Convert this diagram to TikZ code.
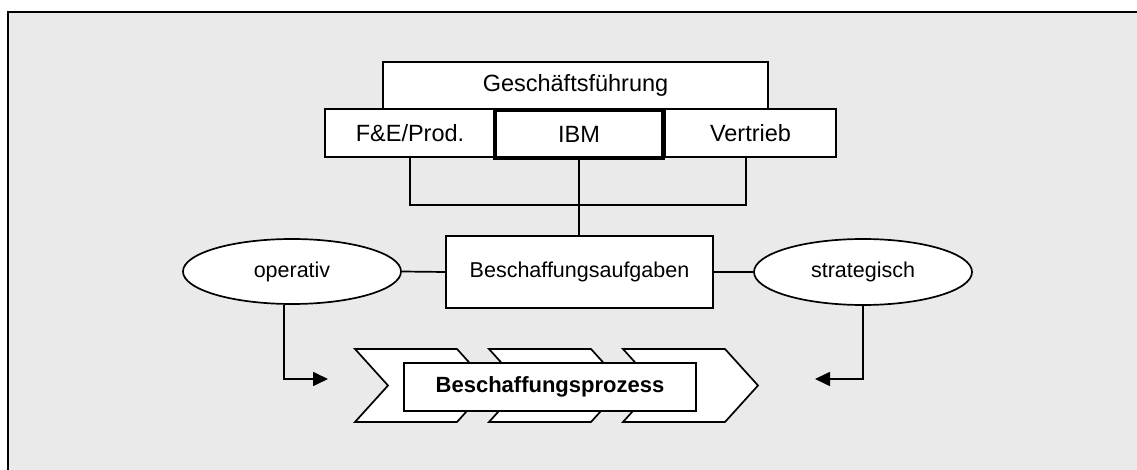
\documentclass[tikz,border=0pt]{standalone}
\usepackage{fontspec}
\setmainfont{Liberation Sans}
\usetikzlibrary{shapes.geometric,arrows.meta}
\definecolor{bggray}{HTML}{EAEAEA}
\begin{document}
\begin{tikzpicture}[x=1pt,y=-1pt,
  line width=1.7pt,
  box/.style={draw=black,fill=white,rectangle,inner sep=0pt,font=\fontsize{22.5}{26}\selectfont},
  oval/.style={draw=black,fill=white,ellipse,inner sep=0pt,font=\fontsize{21.5}{26}\selectfont},
  chev/.style={draw=black,fill=white,line join=miter},
  arr/.style={-{Triangle[length=15pt,width=14pt]}}
]
\useasboundingbox (0,0) rectangle (1137,470);
\fill[bggray] (8,12) rectangle (1137,470);
\draw[line width=2.2pt] (8,470) -- (8,12) -- (1137,12);

% top boxes
\node[box,minimum width=385pt,minimum height=47pt,font=\fontsize{23.5}{26}\selectfont] (gf) at (575.5,85.5) {Geschäftsführung};
\node[box,minimum width=170pt,minimum height=48pt,font=\fontsize{23.5}{26}\selectfont] (fe) at (410,133) {F\&E/Prod.};
\node[box,minimum width=171pt,minimum height=48pt,font=\fontsize{23.5}{26}\selectfont] (vt) at (750.5,133) {Vertrieb};
\node[box,line width=3.5pt,minimum width=168pt,minimum height=48pt,font=\fontsize{23.5}{26}\selectfont] (ibm) at (579,134) {IBM};

% middle
\node[box,minimum width=267pt,minimum height=72pt,font=\fontsize{21.5}{26}\selectfont] (ba) at (579.5,272) {Beschaffungsaufgaben};
\node[oval,minimum width=218pt,minimum height=65pt] (op) at (292,271.5) {operativ};
\node[oval,minimum width=218pt,minimum height=66pt] (st) at (863,272) {strategisch};

% connectors
\coordinate (hl) at (410,205);
\coordinate (hr) at (746,205);
\draw (fe.south) -- (hl) -- (hr) -- (hr |- vt.south);
\draw (ibm.south) -- (ibm.south |- ba.north);
\draw (op.east) -- (ba.west);
\draw (ba.east) -- (st.west);

% chevrons
\foreach \x in {355,489,623}{
  \draw[chev] (\x,349) -- ++(102,0) -- ++(33,36.5) -- ++(-33,36.5) -- ++(-102,0) -- ++(33,-36.5) -- cycle;
}
\node[box,minimum width=292pt,minimum height=48pt,font=\bfseries\fontsize{22}{26}\selectfont] (bp) at (550,387) {Beschaffungsprozess};

% arrows
\coordinate (ol) at (284,379);
\coordinate (ot) at (328,379);
\coordinate (sl) at (863,379);
\coordinate (stip) at (815,379);
\draw[arr] (ol |- op.south) -- (ol) -- (ot);
\draw[arr] (st.south) -- (sl) -- (stip);
\end{tikzpicture}
\end{document}
